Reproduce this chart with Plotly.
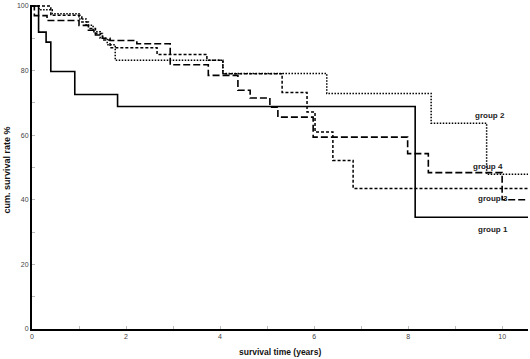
import plotly.graph_objects as go

# Kaplan-Meier step data (time in years, cumulative survival %)
g1_t = [0, 0.14, 0.30, 0.40, 0.91, 1.82, 8.15, 10.55]
g1_v = [100, 91.9, 88.8, 79.7, 72.6, 68.9, 34.6, 34.6]

g2_t = [0, 0.15, 0.43, 1.00, 1.15, 1.30, 1.45, 1.60, 1.77, 4.06, 6.27, 8.49, 9.67, 10.55]
g2_v = [100, 98.8, 97.6, 96.0, 94.0, 92.0, 90.0, 88.0, 83.2, 79.1, 72.9, 63.7, 47.9, 47.9]

g3_t = [0, 0.40, 1.06, 1.20, 1.35, 1.50, 1.66, 2.66, 3.72, 4.06, 5.32, 5.85, 6.02, 6.40, 6.83, 10.55]
g3_v = [100, 97.1, 95.0, 93.0, 91.5, 89.5, 87.1, 85.0, 83.2, 79.0, 73.2, 67.2, 61.0, 52.2, 43.5, 43.5]

g4_t = [0, 0.05, 0.32, 1.00, 1.20, 1.35, 1.50, 1.66, 2.23, 2.94, 3.75, 4.38, 4.64, 5.06, 5.23, 5.98, 7.99, 8.43, 10.00, 10.55]
g4_v = [100, 97.0, 95.5, 94.0, 92.5, 91.0, 90.0, 89.3, 88.3, 81.8, 78.5, 73.9, 71.5, 68.7, 65.6, 59.4, 54.3, 48.4, 40.0, 40.0]

x_ticks = [0, 2, 4, 6, 8, 10]
y_ticks = [0, 20, 40, 60, 80, 100]

labels = ["group 1", "group 2", "group 3", "group 4"]
label_x = [9.81, 9.74, 9.81, 9.70]
label_y = [30.9, 66.2, 40.5, 50.4]

fig = go.Figure()
fig.add_trace(go.Scatter(x=g1_t, y=g1_v, mode="lines", line=dict(shape="hv", color="black", width=1.6)))
fig.add_trace(go.Scatter(x=g2_t, y=g2_v, mode="lines", line=dict(shape="hv", color="black", width=1.5, dash="1.5px,1.5px")))
fig.add_trace(go.Scatter(x=g3_t, y=g3_v, mode="lines", line=dict(shape="hv", color="black", width=1.5, dash="3px,2px")))
fig.add_trace(go.Scatter(x=g4_t, y=g4_v, mode="lines", line=dict(shape="hv", color="black", width=1.6, dash="7px,3px")))

for txt, lx, ly in zip(labels, label_x, label_y):
    fig.add_annotation(x=lx, y=ly, text="<b>%s</b>" % txt, showarrow=False,
                       xanchor="center", yanchor="middle",
                       font=dict(family="Liberation Sans, Arial", size=8, color="#222"))

fig.add_annotation(xref="paper", yref="paper", x=0.5, y=-0.071, text="<b>survival time (years)</b>",
                   xanchor="center", yanchor="middle", showarrow=False,
                   font=dict(family="Liberation Sans, Arial", size=8.5, color="#111"))
fig.add_annotation(xref="paper", yref="paper", x=-0.05, y=0.49, text="<b>cum. survival rate %</b>",
                   textangle=-90, xanchor="center", yanchor="middle", showarrow=False,
                   font=dict(family="Liberation Sans, Arial", size=9, color="#111"))

fig.update_layout(
    width=530, height=359,
    margin=dict(l=32, r=2, t=5, b=30),
    paper_bgcolor="white", plot_bgcolor="white",
    showlegend=False,
    font=dict(family="Liberation Sans, Arial"),
)
fig.update_xaxes(
    range=[0, 10.55], tickvals=x_ticks, ticktext=[str(v) for v in x_ticks],
    showgrid=False, zeroline=False, showline=True, linecolor="black", linewidth=2,
    ticks="inside", ticklen=3, tickcolor="#bbb", tickwidth=1,
    minor=dict(dtick=1, ticks="inside", ticklen=3, tickcolor="#bbb"),
    tickfont=dict(size=7, color="#444"), automargin=False,
)
fig.update_yaxes(
    range=[0, 100.3], tickvals=y_ticks, ticktext=[str(v) for v in y_ticks],
    showgrid=False, zeroline=False, showline=True, linecolor="black", linewidth=2,
    ticks="inside", ticklen=3, tickcolor="#bbb", tickwidth=1,
    minor=dict(dtick=10, ticks="inside", ticklen=3, tickcolor="#bbb"),
    tickfont=dict(size=7, color="#444"), automargin=False,
)

fig.write_html("out.html", config={"displayModeBar": False},
               post_script="document.body.style.margin='0';document.body.style.overflow='hidden';")
